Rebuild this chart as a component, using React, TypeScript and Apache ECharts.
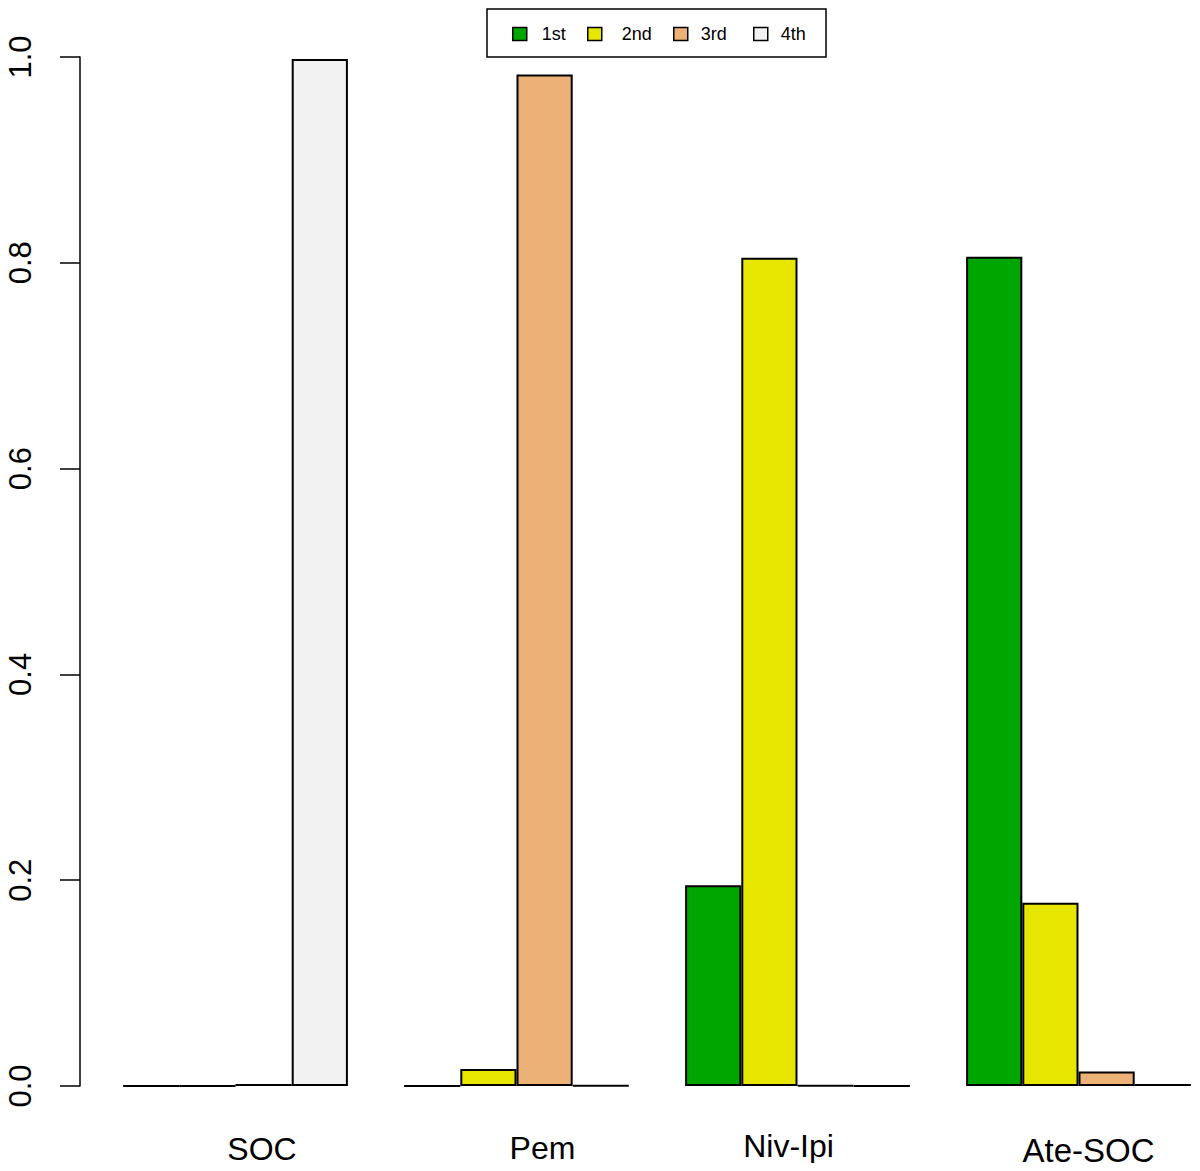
import React, { useEffect, useRef } from "react";
import * as echarts from "echarts";

const categories = ["SOC", "Pem", "Niv-Ipi", "Ate-SOC"];
const seriesNames = ["1st", "2nd", "3rd", "4th"];
const first = [0, 0, 0.195, 0.806];
const second = [0, 0.0165, 0.805, 0.178];
const third = [0.002, 0.983, 0.0003, 0.014];
const fourth = [0.998, 0.0003, 0, 0.002];
const colors = ["#00A600", "#E6E600", "#ECB176", "#F2F2F2"];
const yTicks = [0, 0.2, 0.4, 0.6, 0.8, 1.0];

const FONT = "'Liberation Sans', Arial, Helvetica, sans-serif";

// per-category label nudges (x shift, y shift) to mimic the reference placement
const labelNudge: Record<string, [number, number]> = {
  SOC: [26.5, 3],
  Pem: [26, 2],
  "Niv-Ipi": [-9, 0],
  "Ate-SOC": [10, 4],
};

// legend item positions (icon left, icon-text gap)
const legendPos: [number, number][] = [
  [512, 15],
  [587, 20],
  [673, 13],
  [753, 13],
];

export default function App() {
  const ref = useRef<HTMLDivElement>(null);
  useEffect(() => {
    if (!ref.current) return;
    const chart = echarts.init(ref.current, undefined, { renderer: "svg" });
    const values = [first, second, third, fourth];
    const rich: Record<string, any> = {};
    categories.forEach((c, i) => {
      const [dx, dy] = labelNudge[c];
      rich["c" + i] = {
        fontSize: c === "Ate-SOC" ? 33 : 32,
        fontFamily: FONT,
        color: "#000",
        padding: [dy, dx < 0 ? -2 * dx : 0, 0, dx > 0 ? 2 * dx : 0],
      };
    });
    const option: any = {
      animation: false,
      backgroundColor: "#fff",
      grid: { left: 95, right: 1, top: 57, bottom: 85, containLabel: false },
      legend: seriesNames.map((n, i) => ({
        data: [n],
        left: legendPos[i][0],
        top: 24,
        padding: 0,
        itemWidth: 14,
        itemHeight: 13,
        icon: "rect",
        selectedMode: false,
        itemStyle: { borderColor: "#000", borderWidth: 1.5 },
        textStyle: {
          fontSize: 18,
          fontFamily: FONT,
          color: "#000",
          lineHeight: 20,
          padding: [0, 0, 0, legendPos[i][1] - 5],
        },
      })),
      graphic: [
        {
          type: "rect",
          shape: { x: 487, y: 9, width: 339, height: 48 },
          style: { fill: "none", stroke: "#000", lineWidth: 1.5 },
          silent: true,
        },
      ],
      xAxis: {
        type: "category",
        data: categories,
        axisLine: { show: false },
        axisTick: { show: false },
        splitLine: { show: false },
        axisLabel: {
          margin: 44,
          interval: 0,
          formatter: (v: string) => `{c${categories.indexOf(v)}|${v}}`,
          rich,
        },
      },
      yAxis: {
        type: "value",
        min: 0,
        max: 1,
        interval: 0.2,
        offset: 15,
        axisLine: { show: true, lineStyle: { color: "#000", width: 1.5 } },
        axisTick: { show: true, length: 20, lineStyle: { color: "#000", width: 1.5 } },
        splitLine: { show: false },
        axisLabel: {
          rotate: 90,
          margin: 44,
          fontSize: 31,
          fontFamily: FONT,
          color: "#000",
          customValues: yTicks,
          formatter: (v: number) => v.toFixed(1),
        },
      },
      series: seriesNames.map((n, i) => ({
        name: n,
        type: "bar",
        data: values[i],
        barGap: "0%",
        barCategoryGap: "20%",
        itemStyle: { color: colors[i], borderColor: "#000", borderWidth: 2 },
        emphasis: { disabled: true },
      })),
    };
    chart.setOption(option);
    return () => chart.dispose();
  }, []);
  return (
    <div style={{ width: 1200, height: 1171, margin: -8, overflow: "hidden" }}>
      <div ref={ref} style={{ width: 1220, height: 1171 }} />
    </div>
  );
}
